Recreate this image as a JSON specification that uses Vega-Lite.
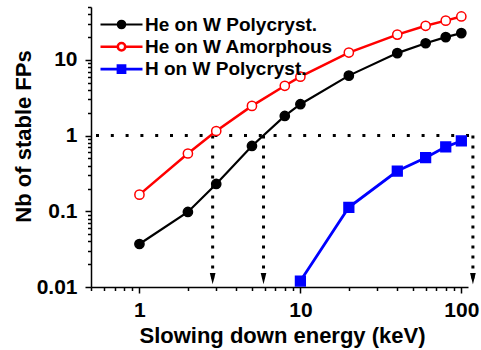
{
  "$schema": "https://vega.github.io/schema/vega-lite/v6.json",
  "width": 377,
  "height": 280,
  "autosize": {"type": "none"},
  "padding": {"left": 91, "top": 7, "right": 13, "bottom": 63},
  "background": "white",
  "config": {
    "view": {"stroke": null},
    "font": "Liberation Sans",
    "axis": {
      "grid": false,
      "domainColor": "black",
      "domainWidth": 1.5,
      "tickColor": "black",
      "tickWidth": 1.5,
      "labelFont": "Liberation Sans",
      "labelFontSize": 21,
      "labelFontWeight": "bold",
      "labelColor": "black",
      "titleFont": "Liberation Sans",
      "titleFontSize": 22,
      "titleFontWeight": "bold",
      "titleColor": "black"
    }
  },
  "datasets": {
    "fp": [
      {"series": "He on W Polycryst.", "energy": 1, "fps": 0.037},
      {"series": "He on W Polycryst.", "energy": 2, "fps": 0.098},
      {"series": "He on W Polycryst.", "energy": 3, "fps": 0.23},
      {"series": "He on W Polycryst.", "energy": 5, "fps": 0.73},
      {"series": "He on W Polycryst.", "energy": 8, "fps": 1.82},
      {"series": "He on W Polycryst.", "energy": 10, "fps": 2.6},
      {"series": "He on W Polycryst.", "energy": 20, "fps": 6.2},
      {"series": "He on W Polycryst.", "energy": 40, "fps": 12.3},
      {"series": "He on W Polycryst.", "energy": 60, "fps": 16.6},
      {"series": "He on W Polycryst.", "energy": 80, "fps": 20},
      {"series": "He on W Polycryst.", "energy": 100, "fps": 22.6},
      {"series": "He on W Amorphous", "energy": 1, "fps": 0.166},
      {"series": "He on W Amorphous", "energy": 2, "fps": 0.58},
      {"series": "He on W Amorphous", "energy": 3, "fps": 1.15},
      {"series": "He on W Amorphous", "energy": 5, "fps": 2.47},
      {"series": "He on W Amorphous", "energy": 8, "fps": 4.55},
      {"series": "He on W Amorphous", "energy": 10, "fps": 6.0},
      {"series": "He on W Amorphous", "energy": 20, "fps": 12.5},
      {"series": "He on W Amorphous", "energy": 40, "fps": 21.6},
      {"series": "He on W Amorphous", "energy": 60, "fps": 28.2},
      {"series": "He on W Amorphous", "energy": 80, "fps": 33},
      {"series": "He on W Amorphous", "energy": 100, "fps": 37.5},
      {"series": "H on W Polycryst.", "energy": 10, "fps": 0.012},
      {"series": "H on W Polycryst.", "energy": 20, "fps": 0.113},
      {"series": "H on W Polycryst.", "energy": 40, "fps": 0.34},
      {"series": "H on W Polycryst.", "energy": 60, "fps": 0.51},
      {"series": "H on W Polycryst.", "energy": 80, "fps": 0.71},
      {"series": "H on W Polycryst.", "energy": 100, "fps": 0.85}
    ],
    "threshold": [
      {"from": 0.5, "to": 118, "level": 1}
    ],
    "crossings": [
      {"energy": 2.85, "top": 1, "bottom": 0.0129},
      {"energy": 5.9, "top": 1, "bottom": 0.0129},
      {"energy": 118, "top": 1, "bottom": 0.0129}
    ]
  },
  "layer": [
    {
      "data": {"name": "threshold"},
      "mark": {"type": "rule", "color": "black", "strokeWidth": 3, "strokeDash": [3, 11.8], "strokeDashOffset": -5, "strokeCap": "butt"},
      "encoding": {
        "x": {"field": "from", "type": "quantitative", "scale": {"type": "log", "domain": [0.5, 110], "nice": false}},
        "x2": {"field": "to"},
        "y": {"field": "level", "type": "quantitative", "scale": {"type": "log", "domain": [0.01, 50], "nice": false}}
      }
    },
    {
      "data": {"name": "crossings"},
      "mark": {"type": "rule", "color": "black", "strokeWidth": 3, "strokeDash": [3, 7], "strokeCap": "butt"},
      "encoding": {
        "x": {"field": "energy", "type": "quantitative", "scale": {"type": "log", "domain": [0.5, 110], "nice": false}},
        "y": {"field": "top", "type": "quantitative", "scale": {"type": "log", "domain": [0.01, 50], "nice": false}},
        "y2": {"field": "bottom"}
      }
    },
    {
      "data": {"name": "crossings"},
      "mark": {"type": "point", "shape": "M-0.5,-1L0.5,-1L0,1Z", "size": 128, "filled": true, "color": "black", "opacity": 1},
      "encoding": {
        "x": {"field": "energy", "type": "quantitative", "scale": {"type": "log", "domain": [0.5, 110], "nice": false}},
        "y": {"field": "bottom", "type": "quantitative", "scale": {"type": "log", "domain": [0.01, 50], "nice": false}}
      }
    },
    {
      "data": {"name": "fp"},
      "mark": {"type": "line"},
      "encoding": {
        "x": {
          "field": "energy", "type": "quantitative",
          "scale": {"type": "log", "domain": [0.5, 110], "nice": false},
          "axis": {
            "title": "Slowing down energy (keV)",
            "values": [0.5, 0.6, 0.7, 0.8, 0.9, 1, 2, 3, 4, 5, 6, 7, 8, 9, 10, 20, 30, 40, 50, 60, 70, 80, 90, 100],
            "labelExpr": "(datum.value == 1 || datum.value == 10 || datum.value == 100) ? datum.value + '' : ''",
            "tickSize": {"condition": {"test": "datum.value == 1 || datum.value == 10 || datum.value == 100", "value": 6}, "value": 3.5},
            "labelPadding": 6,
            "labelFlush": false,
            "labelOverlap": false,
            "titleY": 55,
            "titleBaseline": "alphabetic",
            "titleX": 191
          }
        },
        "y": {
          "field": "fps", "type": "quantitative",
          "scale": {"type": "log", "domain": [0.01, 50], "nice": false},
          "axis": {
            "title": "Nb of stable FPs",
            "values": [0.01, 0.02, 0.03, 0.04, 0.05, 0.06, 0.07, 0.08, 0.09, 0.1, 0.2, 0.3, 0.4, 0.5, 0.6, 0.7, 0.8, 0.9, 1, 2, 3, 4, 5, 6, 7, 8, 9, 10, 20, 30, 40, 50],
            "labelExpr": "(datum.value == 0.01 || datum.value == 0.1 || datum.value == 1 || datum.value == 10) ? datum.value + '' : ''",
            "tickSize": {"condition": {"test": "datum.value == 0.01 || datum.value == 0.1 || datum.value == 1 || datum.value == 10", "value": 6}, "value": 3.5},
            "labelPadding": 8,
            "labelFlush": false,
            "labelOverlap": false,
            "titleAngle": -90,
            "titleAlign": "center",
            "titleBaseline": "middle",
            "titleX": -68,
            "titleY": 129
          }
        },
        "color": {
          "field": "series", "type": "nominal",
          "scale": {"domain": ["He on W Polycryst.", "He on W Amorphous", "H on W Polycryst."], "range": ["#000000", "#ff0000", "#0000ff"]},
          "legend": {
            "title": null,
            "orient": "none",
            "legendX": 21,
            "legendY": 8,
            "padding": 0,
            "rowPadding": 2.3,
            "symbolSize": 144,
            "symbolStrokeWidth": 2.5,
            "symbolType": "M-3.5,0L-0.62,0M0.62,0L3.5,0M-0.62,0A0.62,0.62,0,1,0,0.62,0A0.62,0.62,0,1,0,-0.62,0Z",
            "labelOffset": 14,
            "labelFont": "Liberation Sans",
            "labelFontSize": 19,
            "labelFontWeight": "bold",
            "labelColor": "black",
            "labelLimit": 300,
            "encode": {
              "symbols": {
                "update": {
                  "shape": {"signal": "datum.value === 'H on W Polycryst.' ? 'M-3.5,0L-0.58,0M0.58,0L3.5,0M-0.58,-0.58L0.58,-0.58L0.58,0.58L-0.58,0.58Z' : 'M-3.5,0L-0.62,0M0.62,0L3.5,0M-0.62,0A0.62,0.62,0,1,0,0.62,0A0.62,0.62,0,1,0,-0.62,0Z'"},
                  "fill": {"signal": "datum.value === 'He on W Polycryst.' ? '#000000' : datum.value === 'H on W Polycryst.' ? '#0000ff' : '#ffffff'"},
                  "fillOpacity": {"value": 1},
                  "opacity": {"value": 1}
                }
              }
            }
          }
        },
        "strokeWidth": {
          "field": "series", "type": "nominal",
          "scale": {"domain": ["He on W Polycryst.", "He on W Amorphous", "H on W Polycryst."], "range": [2.2, 2.8, 2.8]},
          "legend": null
        }
      }
    },
    {
      "data": {"name": "fp"},
      "transform": [{"filter": "datum.series === 'He on W Polycryst.'"}],
      "mark": {"type": "point", "shape": "circle", "filled": true, "fill": "#000000", "stroke": "#000000", "strokeWidth": 1.5, "size": 85, "opacity": 1},
      "encoding": {
        "x": {"field": "energy", "type": "quantitative", "scale": {"type": "log", "domain": [0.5, 110], "nice": false}},
        "y": {"field": "fps", "type": "quantitative", "scale": {"type": "log", "domain": [0.01, 50], "nice": false}}
      }
    },
    {
      "data": {"name": "fp"},
      "transform": [{"filter": "datum.series === 'He on W Amorphous'"}],
      "mark": {"type": "point", "shape": "circle", "filled": true, "fill": "#ffffff", "stroke": "#ff0000", "strokeWidth": 1.5, "size": 85, "opacity": 1},
      "encoding": {
        "x": {"field": "energy", "type": "quantitative", "scale": {"type": "log", "domain": [0.5, 110], "nice": false}},
        "y": {"field": "fps", "type": "quantitative", "scale": {"type": "log", "domain": [0.01, 50], "nice": false}}
      }
    },
    {
      "data": {"name": "fp"},
      "transform": [{"filter": "datum.series === 'H on W Polycryst.'"}],
      "mark": {"type": "point", "shape": "square", "filled": true, "fill": "#0000ff", "stroke": "#0000ff", "strokeWidth": 1.5, "size": 95, "opacity": 1},
      "encoding": {
        "x": {"field": "energy", "type": "quantitative", "scale": {"type": "log", "domain": [0.5, 110], "nice": false}},
        "y": {"field": "fps", "type": "quantitative", "scale": {"type": "log", "domain": [0.01, 50], "nice": false}}
      }
    }
  ]
}
